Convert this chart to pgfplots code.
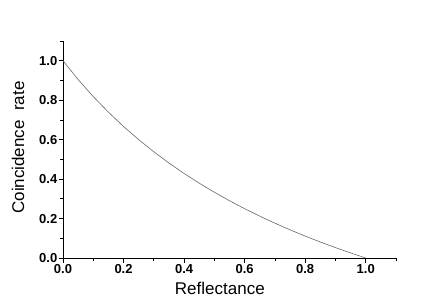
\documentclass[border=0pt]{standalone}
\usepackage{fontspec}
\setmainfont{Liberation Sans}
\usepackage{pgfplots}
\pgfplotsset{compat=1.18}
\begin{document}
\begin{tikzpicture}[x=1pt,y=1pt]
\path[use as bounding box] (0,0) rectangle (436,305);
\begin{axis}[
  at={(63pt,47pt)}, anchor=south west,
  scale only axis, width=333pt, height=217pt,
  xmin=0, xmax=1.1, ymin=0, ymax=1.1,
  axis lines=left, axis line style={-, line width=0.9pt},
  tick align=outside,
  xtick={0,0.2,0.4,0.6,0.8,1.0},
  ytick={0,0.2,0.4,0.6,0.8,1.0},
  minor xtick={0.1,0.3,0.5,0.7,0.9,1.1},
  minor ytick={0.1,0.3,0.5,0.7,0.9,1.1},
  major tick length=4.5pt, minor tick length=3pt,
  tick style={black, line width=0.8pt},
  /pgf/number format/assume math mode=true,
  /pgf/number format/fixed, /pgf/number format/fixed zerofill,
  /pgf/number format/precision=1,
  ticklabel style={font=\fontsize{13}{15}\selectfont\bfseries},
  yticklabel style={inner sep=1pt},
  xticklabel style={inner sep=2pt},
  label style={font=\fontsize{17}{19}\selectfont},
  xlabel={Reflectance},
  ylabel={Coincidence\ \ rate},
  xlabel style={at={(axis description cs:0.471,-0.1705)}, anchor=base},
  ylabel style={at={(axis description cs:-0.117,0.509)}, anchor=base},
  clip=false,
]
\addplot[color=black!60, line width=0.6pt] coordinates {
(0,1) (0.05,0.90476) (0.1,0.81818) (0.15,0.73913) (0.2,0.66667)
(0.25,0.6) (0.3,0.53846) (0.35,0.48148) (0.4,0.42857) (0.45,0.37931)
(0.5,0.33333) (0.55,0.29032) (0.6,0.25) (0.65,0.21212) (0.7,0.17647)
(0.75,0.14286) (0.8,0.11111) (0.85,0.08108) (0.9,0.05263) (0.95,0.02564)
(1.0,0)
};
\end{axis}
\end{tikzpicture}
\end{document}
